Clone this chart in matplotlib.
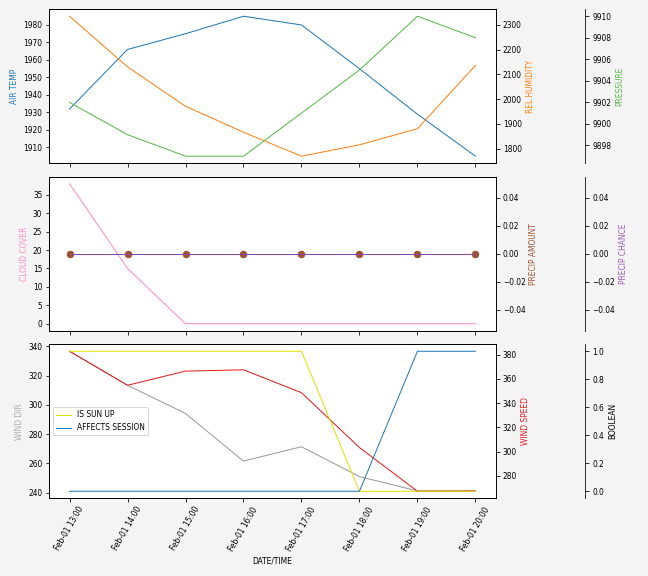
import numpy as np
import pandas as pd
import matplotlib
matplotlib.use('Agg')
import matplotlib.pyplot as plt
import matplotlib.dates as mdates

plt.rcParams['font.size'] = 7.5

times = pd.date_range('2024-02-01 13:00', periods=8, freq='h')

air_temp = [1932, 1966, 1975, 1985, 1980, 1955, 1929, 1905]
rel_humidity = [2335, 2130, 1971, 1866, 1769, 1815, 1880, 2136]
pressure = [9902, 9899, 9897, 9897, 9901, 9905, 9910, 9908]

cloud_cover = [38, 15, 0, 0, 0, 0, 0, 0]
precip_amount = [0, 0, 0, 0, 0, 0, 0, 0]
precip_chance = [0, 0, 0, 0, 0, 0, 0, 0]

wind_dir = [336.6, 313.4, 294.1, 261.6, 271.4, 251.0, 241.2, 241.0]
wind_speed = [382.8, 354.7, 366.4, 367.5, 348.6, 303.3, 267.2, 267.5]
is_sun_up = [1, 1, 1, 1, 1, 0, 0, 0]
affects_session = [0, 0, 0, 0, 0, 0, 1, 1]

fig, axes = plt.subplots(3, 1, sharex=True, figsize=(9, 8), dpi=72)
fig.patch.set_facecolor('#f4f4f4')
fig.subplots_adjust(left=0.076, right=0.765, top=0.984, bottom=0.135, hspace=0.088)


def add_axes3(ax):
    a2 = ax.twinx()
    a3 = ax.twinx()
    a3.spines['right'].set_position(('axes', 1.2))
    return a2, a3


# top panel
ax = axes[0]
a2, a3 = add_axes3(ax)
ax.plot(times, air_temp, color='#1f77b4', lw=1)
a2.plot(times, rel_humidity, color='#ff7f0e', lw=1)
a3.plot(times, pressure, color='#55b845', lw=1)
ax.set_ylabel('AIR TEMP', color='#1f77b4')
a2.set_ylabel('REL HUMIDITY', color='#ff7f0e')
a3.set_ylabel('PRESSURE', color='#55b845')

# middle panel
ax = axes[1]
a2, a3 = add_axes3(ax)
ax.plot(times, cloud_cover, color='#ff88cc', lw=1)
a2.plot(times, precip_amount, 'o', color='#a0522d', ms=6.5)
a3.plot(times, precip_chance, color='#8e44ad', lw=1)
ax.set_ylabel('CLOUD COVER', color='#ff88cc')
a2.set_ylabel('PRECIP AMOUNT', color='#a0522d')
a3.set_ylabel('PRECIP CHANCE', color='#9b59b6')

# bottom panel
ax = axes[2]
a2, a3 = add_axes3(ax)
ax.plot(times, wind_dir, color='#999999', lw=1)
a2.plot(times, wind_speed, color='#e41a1c', lw=1)
a3.plot(times, is_sun_up, color='#e0e000', lw=1, label='IS SUN UP')
a3.plot(times, affects_session, color='#1f77b4', lw=1, label='AFFECTS SESSION')
ax.set_ylabel('WIND DIR', color='#aaaaaa')
a2.set_ylabel('WIND SPEED', color='#e41a1c')
a3.set_ylabel('BOOLEAN', color='black')
a3.legend(loc='center left')

ax.set_xticks(times)
ax.xaxis.set_major_formatter(mdates.DateFormatter('%b-%d %H:%M'))
for lbl in ax.get_xticklabels():
    lbl.set_rotation(60)
ax.set_xlabel('DATE/TIME')

fig.savefig('out.png', dpi=72, facecolor=fig.get_facecolor())
